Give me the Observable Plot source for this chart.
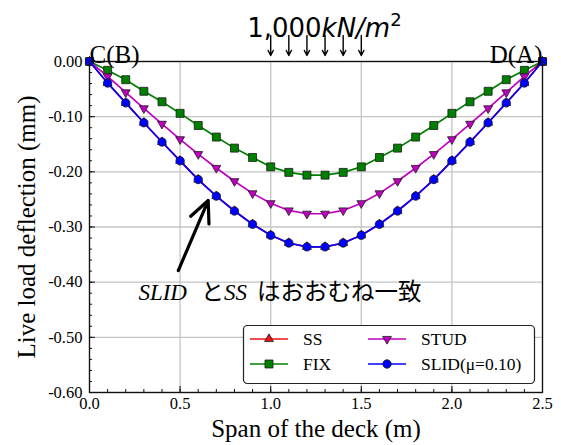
<!DOCTYPE html>
<html><head><meta charset="utf-8">
<script src="https://cdn.jsdelivr.net/npm/d3@7"></script>
<script src="https://cdn.jsdelivr.net/npm/@observablehq/plot@0.6"></script>
<style>body{margin:0;background:#fff;} svg{display:block;}</style>
</head><body><div id="chart"></div>
<script>
// ---- data ----
const span = [0,0.1,0.2,0.3,0.4,0.5,0.6,0.7,0.8,0.9,1.0,1.1,1.2,1.3,1.4,1.5,1.6,1.7,1.8,1.9,2.0,2.1,2.2,2.3,2.4,2.5];
const ss   = [0,-0.039,-0.075,-0.111,-0.146,-0.180,-0.214,-0.244,-0.271,-0.295,-0.315,-0.329,-0.336,-0.336,-0.329,-0.315,-0.295,-0.271,-0.244,-0.214,-0.180,-0.146,-0.111,-0.075,-0.039,0];
const fix  = [0,-0.016,-0.033,-0.054,-0.073,-0.094,-0.116,-0.137,-0.157,-0.174,-0.191,-0.201,-0.206,-0.206,-0.201,-0.191,-0.174,-0.157,-0.137,-0.116,-0.094,-0.073,-0.054,-0.033,-0.016,0];
const stud = [0,-0.027,-0.056,-0.085,-0.113,-0.141,-0.168,-0.193,-0.217,-0.239,-0.257,-0.270,-0.276,-0.276,-0.270,-0.257,-0.239,-0.217,-0.193,-0.168,-0.141,-0.113,-0.085,-0.056,-0.027,0];
const slid = [0,-0.039,-0.075,-0.111,-0.146,-0.180,-0.214,-0.244,-0.271,-0.295,-0.315,-0.329,-0.336,-0.336,-0.329,-0.315,-0.295,-0.271,-0.244,-0.214,-0.180,-0.146,-0.111,-0.075,-0.039,0];
const seriesNames  = ["SS","FIX","STUD","SLID(μ=0.10)"];
const seriesColors = ["#ee1111","#008000","#c000c0","#0000ff"];
const xTicks = [0,0.5,1.0,1.5,2.0,2.5];
const xMinor = d3.range(0,26).map(i=>i/10);
const yTicks = [0,-0.1,-0.2,-0.3,-0.4,-0.5,-0.6];
const yMinor = d3.range(0,31).map(i=>-i/50);
const loadX = [1.0,1.1,1.2,1.3,1.4,1.5];

// ---- symbols ----
const sqrt3 = Math.sqrt(3);
const triUp = {draw(c, s){const y=-Math.sqrt(s/(sqrt3*3)); c.moveTo(0,y*2); c.lineTo(-sqrt3*y,-y); c.lineTo(sqrt3*y,-y); c.closePath();}};
const triDown = {draw(c, s){const y=Math.sqrt(s/(sqrt3*3)); c.moveTo(0,y*2); c.lineTo(-sqrt3*y,-y); c.lineTo(sqrt3*y,-y); c.closePath();}};
const seriesSymbols = [triUp, d3.symbolSquare, triDown, d3.symbolCircle];
const seriesR = [3.3, 4.5, 3.3, 4.2];
const seriesVals = [ss, fix, stud, slid];

const rows = [];
seriesNames.forEach((n,k)=>span.forEach((x,i)=>rows.push({series:n, k, x, y:seriesVals[k][i]})));

const serif = "'Liberation Serif', 'Times New Roman', serif";
const marks = [
  Plot.gridX(xTicks, {stroke:"#c4c4c4", strokeOpacity:1, strokeWidth:1.3}),
  Plot.gridY(yTicks, {stroke:"#c4c4c4", strokeOpacity:1, strokeWidth:1.3}),
  Plot.axisY(yTicks, {tickSize:0, tickPadding:7, tickFormat:d=>d.toFixed(2), fontSize:16.5, fill:"#000", label:null}),
  Plot.axisY(yMinor, {tickSize:-3, fill:"none", text:null, label:null, stroke:"#111"}),
  Plot.axisY(yTicks, {tickSize:-6, fill:"none", text:null, label:null, stroke:"#111"}),
  Plot.axisX(xTicks, {tickSize:0, tickPadding:5, tickFormat:d=>d.toFixed(1), fontSize:16.5, fill:"#000", label:null}),
  Plot.axisX(xMinor, {tickSize:-3, fill:"none", text:null, label:null, stroke:"#111"}),
  Plot.axisX(xTicks, {tickSize:-6, fill:"none", text:null, label:null, stroke:"#111"})
];
seriesNames.forEach((n,k)=>{
  const d = rows.filter(r=>r.k===k);
  marks.push(Plot.line(d, {x:"x", y:"y", stroke:seriesColors[k], strokeWidth:1.7}));
  marks.push(Plot.dot(d, {x:"x", y:"y", fill:seriesColors[k], stroke:"#1a1a1a", strokeWidth:0.8, r:seriesR[k], symbol:seriesSymbols[k]}));
});
marks.push(
  Plot.frame({stroke:"#111", strokeWidth:1.3}),
  Plot.text(["C(B)"], {x:0, y:0, text:d=>d, textAnchor:"start", lineAnchor:"middle", fontSize:25, dy:-7, fill:"#000"}),
  Plot.text(["D(A)"], {x:2.5, y:0, text:d=>d, textAnchor:"end", lineAnchor:"middle", fontSize:25, dy:-7, fill:"#000"}),
  Plot.arrow(loadX, {x1:d=>d, x2:d=>d, y1:0.047, y2:0.011, stroke:"#000", strokeWidth:1.4, headLength:6, headAngle:55}),
  Plot.text(["1,000kN/m2"], {x:0.87, y:0.059, text:d=>d, textAnchor:"start", lineAnchor:"middle", fontSize:26, fill:"#000"}),
  Plot.arrow([{x1:0.49,y1:-0.379,x2:0.655,y2:-0.252}], {x1:"x1",y1:"y1",x2:"x2",y2:"y2", stroke:"#000", strokeWidth:3.2, headLength:11, headAngle:50}),
  Plot.text(["ANNOT"], {x:0.27, y:-0.42, text:d=>d, textAnchor:"start", lineAnchor:"middle", fontSize:22, fill:"#000"}),
  Plot.text(["Live load deflection (mm)"], {frameAnchor:"left", text:d=>d, rotate:-90, textAnchor:"middle", lineAnchor:"middle", dx:-63, fontSize:25, fill:"#000"}),
  Plot.text(["Span of the deck (m)"], {frameAnchor:"bottom", text:d=>d, textAnchor:"middle", lineAnchor:"middle", dy:36, fontSize:25, fill:"#000"})
);

const chart = Plot.plot({
  width:561, height:445,
  marginLeft:89, marginRight:19, marginTop:61, marginBottom:53,
  x:{domain:[0,2.5], axis:null},
  y:{domain:[-0.6,0], axis:null},
  style:{background:"white", color:"#000"},
  marks
});
document.getElementById("chart").append(chart);

const svg = d3.select(chart);
// force serif fonts everywhere
svg.style("font-family", serif);
svg.selectAll("g").each(function(){ if (this.getAttribute("font-family")) this.setAttribute("font-family", serif); });
svg.selectAll("text").style("font-family", serif);
// rich text: load label
svg.selectAll("text").filter(function(){return this.textContent==="1,000kN/m2";}).each(function(){
  const t = d3.select(this); t.text("").style("font-family","'DejaVu Sans'");
  t.append("tspan").text("1,000");
  t.append("tspan").style("font-style","italic").text("kN/m");
  t.append("tspan").style("font-size","18px").attr("dy","-11").text("2");
});
svg.selectAll("text").filter(function(){return this.textContent==="ANNOT";}).each(function(){
  const t = d3.select(this); t.text("");
  t.append("tspan").style("font-family",serif).style("font-style","italic").style("font-size","23px").text("SLID");
  t.append("tspan").style("font-family","'Noto Sans CJK JP'").style("font-size","23px").attr("dx","14").text("と");
  t.append("tspan").style("font-family",serif).style("font-style","italic").style("font-size","23px").text("SS");
  t.append("tspan").style("font-family","'Noto Sans CJK JP'").style("font-size","23.5px").attr("dx","10").text("はおおむね一致");
});

// legend
const lg = svg.append("g").style("font-family", serif).style("font-size","17.5px").attr("text-anchor","start");
lg.append("rect").attr("x",243.5).attr("y",325.5).attr("width",291).attr("height",58).attr("rx",4)
  .attr("fill","white").attr("stroke","#222").attr("stroke-width",1.2);
const pos = [[250,339],[250,364],[368,339],[368,364]];
seriesNames.forEach((n,k)=>{
  const [x0,y0] = pos[k];
  lg.append("line").attr("x1",x0).attr("x2",x0+38).attr("y1",y0).attr("y2",y0).attr("stroke",seriesColors[k]).attr("stroke-width",1.7);
  lg.append("path").attr("transform",`translate(${x0+19},${y0})`)
    .attr("d", d3.symbol(seriesSymbols[k], Math.PI*seriesR[k]*seriesR[k])())
    .attr("fill",seriesColors[k]).attr("stroke","#1a1a1a").attr("stroke-width",0.8);
  lg.append("text").attr("x",x0+53).attr("y",y0).attr("dy","0.34em").attr("text-anchor","start").attr("fill","#000").style("font-family",serif).text(n);
});
</script></body></html>
